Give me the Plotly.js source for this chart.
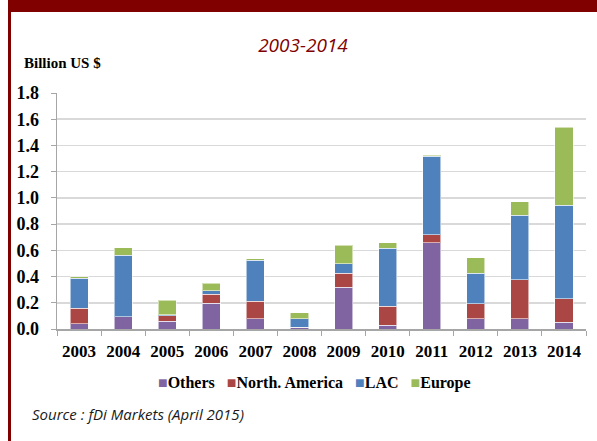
<!DOCTYPE html>
<html>
<head>
<meta charset="utf-8">
<script src="https://cdn.plot.ly/plotly-3.0.1.min.js"></script>
<style>
  html, body { margin: 0; padding: 0; background: #fff; }
  #wrap { position: relative; width: 597px; height: 441px; overflow: hidden; }
  #chart { position: absolute; left: 0; top: 0; width: 597px; height: 441px; }
  #band { position: absolute; left: 8px; top: 0; width: 589px; height: 12px; background: #800000; z-index: 5; }
  #vline { position: absolute; left: 8px; top: 0; width: 3px; height: 441px; background: #800000; z-index: 5; }
</style>
</head>
<body>
<div id="wrap">
  <div id="chart"></div>
  <div id="band"></div>
  <div id="vline"></div>
</div>
<script>
// Data (billion US $)
var years = ['2003','2004','2005','2006','2007','2008','2009','2010','2011','2012','2013','2014'];
var others       = [0.040, 0.095, 0.060, 0.198, 0.078, 0.015, 0.320, 0.030, 0.656, 0.079, 0.079, 0.053];
var northAmerica = [0.120, 0.000, 0.040, 0.066, 0.133, 0.000, 0.105, 0.143, 0.064, 0.112, 0.297, 0.176];
var lac          = [0.226, 0.467, 0.008, 0.028, 0.313, 0.064, 0.073, 0.442, 0.598, 0.234, 0.491, 0.715];
var europe       = [0.011, 0.056, 0.111, 0.056, 0.013, 0.045, 0.140, 0.041, 0.007, 0.119, 0.105, 0.595];
var seriesNames  = ['Others', 'North. America', 'LAC', 'Europe'];
var seriesColors = ['#8064A2', '#AA4643', '#4F81BD', '#9BBB59'];
var yTicks = [0, 0.2, 0.4, 0.6, 0.8, 1.0, 1.2, 1.4, 1.6, 1.8];

var seriesData = [others, northAmerica, lac, europe];
var traces = seriesData.map(function (vals, i) {
  return {
    type: 'bar',
    name: seriesNames[i],
    x: years,
    y: vals,
    marker: { color: seriesColors[i], line: { color: 'rgba(255,255,255,0.55)', width: 1 } },
    hoverinfo: 'x+y+name'
  };
});

// plot-area geometry (pixels)
var L = 57, R = 11, T = 93, B = 112, W = 597, H = 441;
var pw = W - L - R, ph = H - T - B;
function px(x) { return (x - L) / pw; }
function py(y) { return (H - B - y) / ph; }

var serif = 'Times New Roman';
var sans = 'Open Sans';

var legendText = seriesNames.map(function (n, i) {
  return '<span style="color:' + seriesColors[i] + '">\u25A0</span>' + n;
}).join('\u00A0\u00A0\u00A0');

var layout = {
  width: W, height: H,
  margin: { l: L, r: R, t: T, b: B, pad: 0 },
  paper_bgcolor: '#ffffff',
  plot_bgcolor: '#ffffff',
  barmode: 'stack',
  bargap: 0.59,
  showlegend: false,
  title: {
    text: '<i>2003-2014</i>',
    font: { family: sans, size: 19, color: '#800000' },
    x: 303 / W, xanchor: 'center',
    y: 1 - 45 / H, yanchor: 'middle'
  },
  xaxis: {
    type: 'category',
    tickson: 'boundaries',
    tickangle: 0,
    ticks: 'outside', ticklen: 5, tickcolor: '#a6a6a6', tickwidth: 1,
    showline: true, linecolor: '#a6a6a6', linewidth: 1.5,
    showgrid: false,
    ticklabelstandoff: 6,
    tickfont: { family: serif, size: 17, color: '#000000', weight: 'bold' },
    fixedrange: true
  },
  yaxis: {
    range: [0, 1.8],
    tickvals: yTicks,
    tickformat: '.1f',
    ticks: 'outside', ticklen: 5, tickcolor: '#a6a6a6', tickwidth: 1,
    showline: true, linecolor: '#a6a6a6', linewidth: 1.5,
    showgrid: true, gridcolor: '#d9d9d9', gridwidth: 1.5,
    zeroline: false,
    ticklabelstandoff: 8,
    tickfont: { family: serif, size: 18, color: '#000000', weight: 'bold' },
    fixedrange: true
  },
  annotations: [
    {
      text: 'Billion US $',
      xref: 'paper', yref: 'paper', x: px(22), y: py(63),
      xanchor: 'left', yanchor: 'middle', showarrow: false,
      font: { family: serif, size: 15, color: '#000000', weight: 'bold' }
    },
    {
      text: legendText,
      xref: 'paper', yref: 'paper', x: px(314), y: py(383),
      xanchor: 'center', yanchor: 'middle', showarrow: false,
      font: { family: serif, size: 16, color: '#000000', weight: 'bold' }
    },
    {
      text: 'Source : fDi Markets (April 2015)',
      xref: 'paper', yref: 'paper', x: px(30), y: py(414),
      xanchor: 'left', yanchor: 'middle', showarrow: false,
      font: { family: sans, size: 15, color: '#1a1a1a', style: 'italic' }
    }
  ]
};

Plotly.newPlot('chart', traces, layout, { displayModeBar: false, staticPlot: true });
</script>
</body>
</html>
